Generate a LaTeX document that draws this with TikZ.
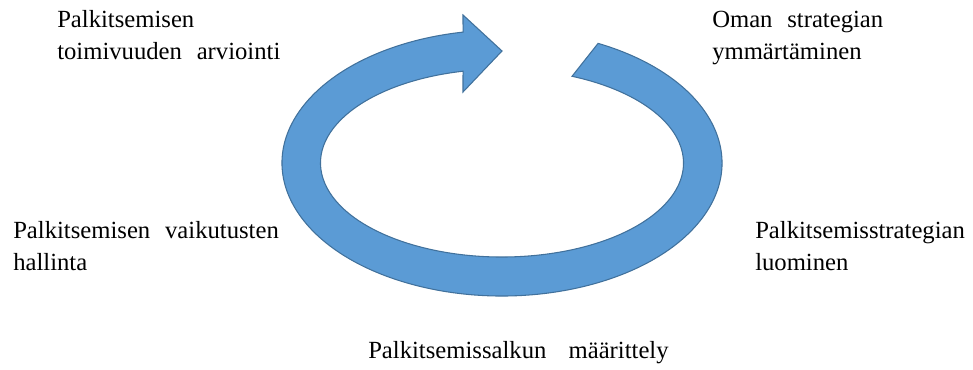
\documentclass[tikz,border=0pt]{standalone}
\usepackage{fontspec}
\setmainfont{Liberation Serif}
\usepackage{tikz}
\usetikzlibrary{positioning, calc}

\definecolor{ringfill}{HTML}{5B9BD5}
\definecolor{ringline}{HTML}{41719C}
\newcommand{\stagefont}{\fontsize{18.5}{23.5}\selectfont\spaceskip=0.6em plus 0.1em\relax}

\begin{document}
\begin{tikzpicture}[x=0.75pt, y=0.75pt]

    % Define styles
    \tikzstyle{stage} = [
        align=left, inner sep=0pt, anchor=base west, font=\stagefont
    ]
    \tikzstyle{ring} = [fill=ringfill, draw=ringline, line width=0.8pt]

    \useasboundingbox (0,0) rectangle (973,369);

    % Circular arrow
    \coordinate (centre) at (502,206);
    \draw [ring] ($(centre)+(64.1:220 and 133)$)
        arc [start angle=64.1, end angle=-259.8, x radius=220, y radius=133]
        -- (463,354) -- (502,318) -- (463,277)
        -- ($(centre)+(-257.6:181.5 and 94)$)
        arc [start angle=-257.6, end angle=67.3, x radius=181.5, y radius=94]
        -- cycle;

    % Labels (base = last line)
    \node (evaluation) [stage] at (57,310) {Palkitsemisen\\toimivuuden arviointi};
    \node (strategy) [stage] at (712,310) {Oman strategian\\ymmärtäminen};
    \node (impact) [stage] at (13,99) {Palkitsemisen vaikutusten\\hallinta};
    \node (creation) [stage] at (755,99) {Palkitsemisstrategian\\luominen};
    \node (portfolio) [stage] at (368,11) {Palkitsemissalkun\hspace{0.3em} määrittely};

\end{tikzpicture}
\end{document}
